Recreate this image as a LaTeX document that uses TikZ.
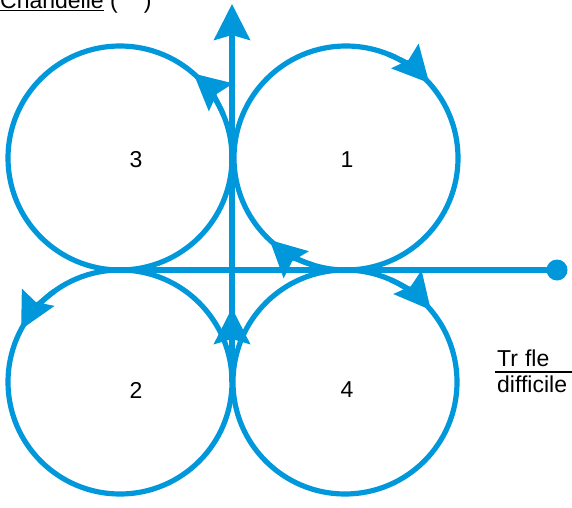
\documentclass[tikz,border=0pt]{standalone}
\usepackage{fontspec}
\setmainfont{Liberation Sans}
\usetikzlibrary{arrows.meta}
\definecolor{blu}{RGB}{0,152,218}
\begin{document}
\begin{tikzpicture}[x=1pt,y=1pt,
  bline/.style={draw=blu,line width=5.2pt},
  tipped/.style={-{Stealth[length=36pt,width=36pt,inset=5pt]}},
  lbl/.style={font=\fontsize{23}{26}\selectfont,inner sep=0pt,text=black}]
\useasboundingbox (0,0) rectangle (572,507);
\def\rr{112}
\coordinate (c1) at (346,349);
\coordinate (c3) at (120,349);
\coordinate (c2) at (120,125);
\coordinate (c4) at (345,125);
% circles
\draw[bline] (c1) circle (\rr);
\draw[bline] (c3) circle (\rr);
\draw[bline] (c2) circle (\rr);
\draw[bline] (c4) circle (\rr);
% horizontal line with dot
\coordinate (hl) at (110,237);
\node[circle,fill=blu,inner sep=0pt,minimum size=21pt] (dot) at (557,237) {};
\draw[bline] (hl) -- (dot.center);
% vertical line with arrows
\coordinate (vb) at (232,125);
\coordinate (vt) at (232,503);
\coordinate (va) at (232,199);
\draw[bline,tipped] (vb) -- (vt);
\draw[bline,tipped] (vb) -- (va);
% arrowheads on circles
\draw[bline,tipped] (c1) ++(68:\rr) arc[start angle=68,end angle=42,radius=\rr];
\draw[bline,tipped] (c1) ++(253:\rr) arc[start angle=253,end angle=227,radius=\rr];
\draw[bline,tipped] (c4) ++(66:\rr) arc[start angle=66,end angle=40,radius=\rr];
\draw[bline,tipped] (c3) ++(23:\rr) arc[start angle=23,end angle=49,radius=\rr];
\draw[bline,tipped] (c2) ++(126:\rr) arc[start angle=126,end angle=152,radius=\rr];
% numbers
\node[lbl] (n3) at (136,347) {3};
\node[lbl] (n1) at (347,347) {1};
\node[lbl] (n2) at (136,117) {2};
\node[lbl] (n4) at (347,117) {4};
% texts
\node[lbl,anchor=base west] (chand) at (0,498) {\underline{Chandelle} (\hspace{26pt})};
\node[lbl,anchor=base west] (tr) at (497,141) {Tr\hspace{7pt}fle};
\draw[black,line width=1.3pt] (495,135) -- (572,135);
\node[lbl,anchor=base west] (dif) at (497,115) {difficile};
\end{tikzpicture}
\end{document}
